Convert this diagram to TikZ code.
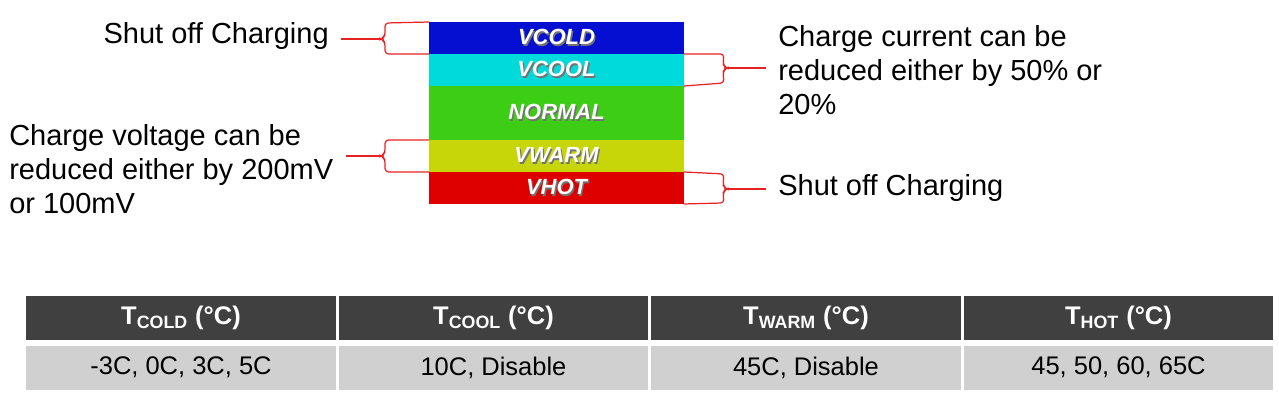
\documentclass[tikz,border=0pt]{standalone}
\usepackage{fontspec}
\setmainfont{Liberation Sans}
\usetikzlibrary{
    calc,
    positioning
}

\definecolor{bandcold}{RGB}{5,15,210}
\definecolor{bandcool}{RGB}{0,218,218}
\definecolor{bandnormal}{RGB}{60,205,20}
\definecolor{bandwarm}{RGB}{198,214,8}
\definecolor{bandhot}{RGB}{222,0,0}
\definecolor{bracketred}{RGB}{230,35,35}
\definecolor{headgray}{RGB}{64,64,64}
\definecolor{rowgray}{RGB}{208,208,208}

\newcommand{\bandtext}[1]{\rlap{\kern0.8pt\raisebox{-0.8pt}{\color{black!55}#1}}#1}

\tikzset{
    band/.style={rectangle, inner sep=0pt, outer sep=0pt, minimum width=5.1cm, text=white,
        font=\fontsize{12.5pt}{14pt}\selectfont\bfseries\itshape},
    note/.style={inner sep=0pt, outer xsep=7pt, align=left,
        font=\fontsize{16.5pt}{19.2pt}\selectfont},
    bracket/.style={draw=bracketred, line width=0.7pt, rounded corners=2pt},
    headcell/.style={rectangle, inner sep=0pt, fill=headgray, text=white, minimum width=6.2cm,
        minimum height=0.88cm, font=\fontsize{14.5pt}{17pt}\selectfont\bfseries},
    valcell/.style={rectangle, inner sep=0pt, fill=rowgray, text=black, minimum width=6.2cm,
        minimum height=0.88cm, font=\fontsize{14.5pt}{17pt}\selectfont}
}

\begin{document}
\begin{tikzpicture}[x=0.02cm, y=-0.02cm]
    \useasboundingbox (0,0) rectangle (1279,393);

    % temperature bands
    \node[band, fill=bandcold, minimum height=0.64cm, anchor=north] (cold) at (556.5,22) {\bandtext{VCOLD}};
    \node[band, fill=bandcool, minimum height=0.64cm, below=0pt of cold] (cool) {\bandtext{VCOOL}};
    \node[band, fill=bandnormal, minimum height=1.08cm, below=0pt of cool] (normal) {\bandtext{NORMAL}};
    \node[band, fill=bandwarm, minimum height=0.64cm, below=0pt of normal] (warm) {\bandtext{VWARM}};
    \node[band, fill=bandhot, minimum height=0.64cm, below=0pt of warm] (hot) {\bandtext{VHOT}};

    % notes (base = last line)
    \node[note, anchor=base east] (coldnote) at (341,43) {Shut off Charging};
    \node[note, anchor=base west] (warmnote) at (-3,213) {Charge voltage can be\\reduced either by 200mV\\or 100mV};
    \node[note, anchor=base west] (coolnote) at (766,114) {Charge current can be\\reduced either by 50\% or\\20\%};
    \node[note, anchor=base west] (hotnote) at (766,195) {Shut off Charging};

    % brackets
    \coordinate (coldtip) at ($(cold.west)+(-48,1)$);
    \draw[bracket] (cold.north west) -- ($(cold.north west)+(-44,1)$) -- ($(coldtip)+(4,-3)$) -- (coldtip)
        -- ($(coldtip)+(4,3)$) -- ($(cold.south west)+(-44,0)$) -- (cold.south west);
    \draw[bracket] (coldtip) -- (coldtip -| coldnote.east);
    \coordinate (warmtip) at ($(warm.west)+(-48,0)$);
    \draw[bracket] (warm.north west) -- ($(warm.north west)+(-44,0)$) -- ($(warmtip)+(4,-3)$) -- (warmtip)
        -- ($(warmtip)+(4,3)$) -- ($(warm.south west)+(-44,0)$) -- (warm.south west);
    \draw[bracket] (warmtip) -- (warmtip -| warmnote.east);
    \coordinate (cooltip) at ($(cool.east)+(43,-2)$);
    \draw[bracket] (cool.north east) -- ($(cool.north east)+(40,0)$) -- ($(cooltip)+(-4,-3)$) -- (cooltip)
        -- ($(cooltip)+(-4,3)$) -- ($(cool.south east)+(40,-3)$) -- (cool.south east);
    \draw[bracket] (cooltip) -- (cooltip -| coolnote.west);
    \coordinate (hottip) at ($(hot.east)+(43,1)$);
    \draw[bracket] (hot.north east) -- ($(hot.north east)+(40,2)$) -- ($(hottip)+(-4,-3)$) -- (hottip)
        -- ($(hottip)+(-4,3)$) -- ($(hot.south east)+(40,-1)$) -- (hot.south east);
    \draw[bracket] (hottip) -- (hottip -| hotnote.west);

    % threshold table
    \foreach \t/\v [count=\i] in {COLD/{-3C, 0C, 3C, 5C}, COOL/{10C, Disable}, WARM/{45C, Disable}, HOT/{45, 50, 60, 65C}} {
        \node[headcell] (head\i) at ({181+(\i-1)*312.5},318) {T\textsubscript{\t} (°C)};
        \node[valcell, below=0.1cm of head\i] (val\i) {\v};
    }
\end{tikzpicture}
\end{document}
